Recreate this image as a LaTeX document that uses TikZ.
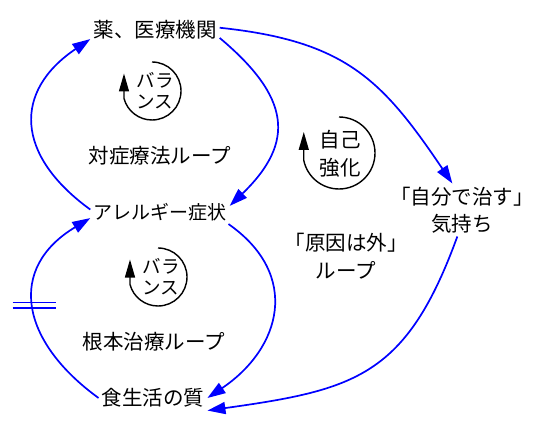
\documentclass[tikz,border=0pt]{standalone}
\usepackage{fontspec}
\setmainfont{Noto Sans CJK JP}
\definecolor{linkblue}{HTML}{0000FF}
\usetikzlibrary{arrows.meta}

\begin{document}
\begin{tikzpicture}[x=1pt,y=1pt,
    varbox/.style={inner sep=3pt,align=center,
      font=\fontsize{20.5}{27.5}\selectfont},
    linkarrow/.style={linkblue,line width=1.7pt,
      -{Triangle[length=18pt,width=12pt]}},
    loopmark/.style={line width=1.4pt,-{Triangle[length=18pt,width=10pt]}}]
      \path[use as bounding box] (0,0) rectangle (536,433);
      \node[varbox] (med) at (155,403) {薬、医療機関};
      \node[varbox,font=\fontsize{19}{23}\selectfont]
        (allergy) at (160,221) {アレルギー症状};
      \node[varbox] (diet) at (153,35) {食生活の質};
      \node[varbox] (self) at (462,223) {「自分で治す」\\気持ち};
      \node[varbox] (outerloop) at (346,177) {「原因は外」\\ループ};
      \node[varbox] (symptloop) at (160,277) {対症療法ループ};
      \node[varbox] (rootloop) at (154,91) {根本治療ループ};
      % loop markers
      \foreach \x/\y/\name in {152/342/balsympt,158/156/balroot}{
        \draw[loopmark] (\x,\y) ++(90:29)
          arc[start angle=90,end angle=-165,radius=29] -- ++(0,25);
        \node[align=center,font=\fontsize{18.5}{21}\selectfont]
          (\name) at (\x+3,\y) {バラ\\ンス};
      }
      \draw[loopmark] (339,280) ++(90:36)
        arc[start angle=90,end angle=-168,radius=36] -- ++(0,28.5);
      \node[varbox,font=\fontsize{20.5}{28}\selectfont]
        (reinf) at (340,279) {自己\\強化};
      % links
      \draw[linkarrow] (allergy.178) to[out=144,in=214,looseness=1.4] (med.188);
      \draw[linkarrow] (med.353) to[out=-40,in=44,looseness=1.4] (allergy.5);
      \draw[linkarrow] (diet.west) to[out=144,in=211,looseness=1.38]
        coordinate[pos=.5] (delay) (allergy.185);
      \draw[linkarrow] (allergy.-10) to[out=-35,in=34,looseness=1.3] (diet.east);
      \draw[linkarrow] (med.2) to[out=-6,in=124,looseness=1.15] (self.110);
      \draw[linkarrow] (self.-100) to[out=-110,in=8,looseness=1.25] (diet.-13);
      \draw[linkblue,line width=1.7pt]
        ([xshift=-21pt,yshift=2.8pt]delay) -- ++(43,0)
        ([xshift=-21pt,yshift=-2.8pt]delay) -- ++(43,0);
    \end{tikzpicture}
\end{document}
